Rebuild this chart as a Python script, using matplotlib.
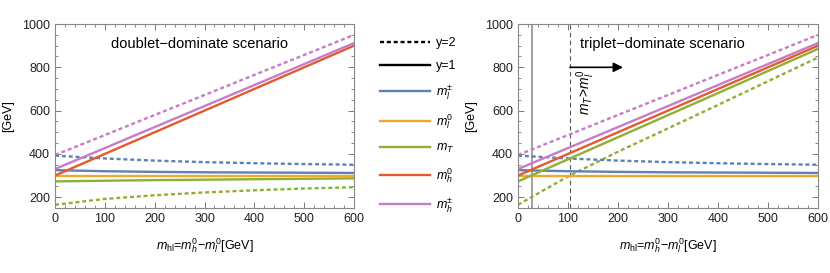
import numpy as np
import matplotlib
matplotlib.use("Agg")
import matplotlib.pyplot as plt
from matplotlib.lines import Line2D
from matplotlib.ticker import MultipleLocator

plt.rcParams['font.family'] = ['Liberation Sans', 'DejaVu Sans']
plt.rcParams['mathtext.fontset'] = 'custom'
plt.rcParams['mathtext.rm'] = 'Liberation Sans'
plt.rcParams['mathtext.it'] = 'Liberation Sans:italic'

# x axis: m_hl in GeV
mhl = [0, 100, 200, 300, 400, 500, 600]

# doublet-dominate scenario
d_mlpm_y1 = [325, 320, 317, 315, 314, 313, 312]
d_mlpm_y2 = [392, 379, 369, 362, 357, 353, 350]
d_ml0 = [300, 300, 300, 300, 300, 300, 300]
d_mT_y1 = [273, 276, 279, 281, 283, 285, 287]
d_mT_y2 = [165, 192, 209, 222, 232, 240, 246]
d_mh0 = [300, 400, 500, 600, 700, 800, 900]
d_mhpm_y1 = [330, 427, 524, 621, 718, 815, 912]
d_mhpm_y2 = [395, 487, 580, 672, 765, 857, 950]

# triplet-dominate scenario
t_mlpm_y1 = [325, 320, 317, 315, 314, 313, 312]
t_mlpm_y2 = [392, 379, 369, 362, 357, 353, 350]
t_ml0 = [300, 300, 300, 300, 300, 300, 300]
t_mT_y1 = [273, 375, 477, 579, 681, 783, 885]
t_mT_y2 = [165, 296, 410, 518, 626, 736, 845]
t_mh0 = [300, 400, 500, 600, 700, 800, 900]
t_mhpm_y1 = [330, 427, 524, 621, 718, 815, 912]
t_mhpm_y2 = [395, 487, 580, 672, 765, 857, 950]

# m_T = m_l^0 crossings
cross_y1 = 27
cross_y2 = 104

c_blue = '#5E81B5'
c_orange = '#F0A830'
c_green = '#8FB032'
c_red = '#E35A2E'
c_purple = '#C77CC8'
lw = 1.7
dash = (0, (1.7, 1.2))

fig = plt.figure(figsize=(8.3, 2.73), dpi=100)
ax1 = fig.add_axes([0.0663, 0.238, 0.3602, 0.674])
ax2 = fig.add_axes([0.6241, 0.238, 0.3614, 0.674])


def draw(ax, mlpm1, mlpm2, ml0, mT1, mT2, mh0, mhpm1, mhpm2):
    ax.plot(mhl, mhpm2, color=c_purple, lw=lw, ls=dash)
    ax.plot(mhl, mT2, color=c_green, lw=lw, ls=dash)
    ax.plot(mhl, mlpm2, color=c_blue, lw=lw, ls=dash)
    ax.plot(mhl, mlpm1, color=c_blue, lw=lw)
    ax.plot(mhl, ml0, color=c_orange, lw=lw)
    ax.plot(mhl, mT1, color=c_green, lw=lw)
    ax.plot(mhl, mh0, color=c_red, lw=lw)
    ax.plot(mhl, mhpm1, color=c_purple, lw=lw)


def style(ax):
    ax.set_xlim(0, 600)
    ax.set_ylim(150, 1000)
    ax.xaxis.set_major_locator(MultipleLocator(100))
    ax.xaxis.set_minor_locator(MultipleLocator(20))
    ax.yaxis.set_major_locator(MultipleLocator(200))
    ax.yaxis.set_minor_locator(MultipleLocator(50))
    ax.tick_params(which='both', direction='in', top=True, right=True,
                   color='#777777', labelsize=9, labelcolor='#222222')
    ax.tick_params(which='major', length=4, width=0.7)
    ax.tick_params(which='minor', length=2.2, width=0.6)
    for s in ax.spines.values():
        s.set_color('#888888')
        s.set_linewidth(0.8)
    ax.set_ylabel('[GeV]', fontsize=9, labelpad=6)
    ax.set_xlabel(r'$m_{\mathrm{hl}}$=$m_h^0$−$m_l^0$[GeV]', fontsize=9, labelpad=8)


draw(ax1, d_mlpm_y1, d_mlpm_y2, d_ml0, d_mT_y1, d_mT_y2, d_mh0, d_mhpm_y1, d_mhpm_y2)
style(ax1)
ax1.text(0.482, 0.89, 'doublet−dominate scenario', transform=ax1.transAxes,
         ha='center', va='center', fontsize=10.5)

ax2.axvline(cross_y1, color='#999999', lw=1.3)
ax2.axvline(cross_y2, color='#555555', lw=0.8, ls=(0, (4, 3)))
draw(ax2, t_mlpm_y1, t_mlpm_y2, t_ml0, t_mT_y1, t_mT_y2, t_mh0, t_mhpm_y1, t_mhpm_y2)
style(ax2)
ax2.text(0.48, 0.89, 'triplet−dominate scenario', transform=ax2.transAxes,
         ha='center', va='center', fontsize=10.5)
ax2.annotate('', xy=(210, 800), xytext=(cross_y2, 800),
             arrowprops=dict(arrowstyle='-|>', color='black', lw=1.2,
                             mutation_scale=14, shrinkA=0, shrinkB=0))
ax2.text(136, 790, r'$m_T\!>\!m_l^0$', rotation=90, ha='center', va='top',
         fontsize=10)

handles = [
    Line2D([], [], color='black', lw=lw, ls=dash),
    Line2D([], [], color='black', lw=lw),
    Line2D([], [], color=c_blue, lw=lw),
    Line2D([], [], color=c_orange, lw=lw),
    Line2D([], [], color=c_green, lw=lw),
    Line2D([], [], color=c_red, lw=lw),
    Line2D([], [], color=c_purple, lw=lw),
]
labels = ['y=2', 'y=1', r'$m_l^{\pm}$', r'$m_l^0$', r'$m_T$', r'$m_h^0$', r'$m_h^{\pm}$']
fig.legend(handles, labels, loc='upper left', bbox_to_anchor=(0.452, 0.882),
           frameon=False, fontsize=9, handlelength=4.0, handletextpad=0.5,
           labelspacing=0.88, borderaxespad=0)

fig.savefig('out.png', dpi=100)
